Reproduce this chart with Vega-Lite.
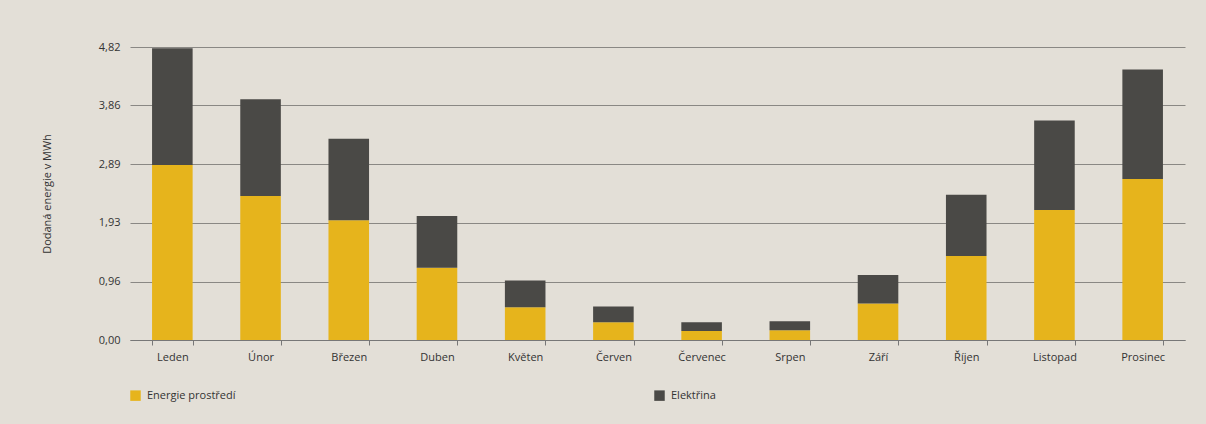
{
  "$schema": "https://vega.github.io/schema/vega-lite/v6.json",
  "autosize": "none",
  "width": 1055,
  "height": 293,
  "padding": {"left": 130, "top": 47, "right": 21, "bottom": 84},
  "background": "#e3dfd7",
  "config": {
    "view": {"stroke": null},
    "font": "Open Sans",
    "axis": {"labelFont": "Open Sans", "titleFont": "Open Sans", "labelColor": "#333333", "titleColor": "#333333"},
    "legend": {"labelFont": "Open Sans"}
  },
  "data": {
    "values": [
      {"mesic": "Leden", "zdroj": "Energie prostředí", "o": 1, "mwh": 2.88},
      {"mesic": "Leden", "zdroj": "Elektřina", "o": 2, "mwh": 1.92},
      {"mesic": "Únor", "zdroj": "Energie prostředí", "o": 1, "mwh": 2.37},
      {"mesic": "Únor", "zdroj": "Elektřina", "o": 2, "mwh": 1.59},
      {"mesic": "Březen", "zdroj": "Energie prostředí", "o": 1, "mwh": 1.97},
      {"mesic": "Březen", "zdroj": "Elektřina", "o": 2, "mwh": 1.34},
      {"mesic": "Duben", "zdroj": "Energie prostředí", "o": 1, "mwh": 1.19},
      {"mesic": "Duben", "zdroj": "Elektřina", "o": 2, "mwh": 0.85},
      {"mesic": "Květen", "zdroj": "Energie prostředí", "o": 1, "mwh": 0.54},
      {"mesic": "Květen", "zdroj": "Elektřina", "o": 2, "mwh": 0.44},
      {"mesic": "Červen", "zdroj": "Energie prostředí", "o": 1, "mwh": 0.29},
      {"mesic": "Červen", "zdroj": "Elektřina", "o": 2, "mwh": 0.26},
      {"mesic": "Červenec", "zdroj": "Energie prostředí", "o": 1, "mwh": 0.15},
      {"mesic": "Červenec", "zdroj": "Elektřina", "o": 2, "mwh": 0.14},
      {"mesic": "Srpen", "zdroj": "Energie prostředí", "o": 1, "mwh": 0.16},
      {"mesic": "Srpen", "zdroj": "Elektřina", "o": 2, "mwh": 0.15},
      {"mesic": "Září", "zdroj": "Energie prostředí", "o": 1, "mwh": 0.60},
      {"mesic": "Září", "zdroj": "Elektřina", "o": 2, "mwh": 0.47},
      {"mesic": "Říjen", "zdroj": "Energie prostředí", "o": 1, "mwh": 1.38},
      {"mesic": "Říjen", "zdroj": "Elektřina", "o": 2, "mwh": 1.01},
      {"mesic": "Listopad", "zdroj": "Energie prostředí", "o": 1, "mwh": 2.14},
      {"mesic": "Listopad", "zdroj": "Elektřina", "o": 2, "mwh": 1.47},
      {"mesic": "Prosinec", "zdroj": "Energie prostředí", "o": 1, "mwh": 2.65},
      {"mesic": "Prosinec", "zdroj": "Elektřina", "o": 2, "mwh": 1.80}
    ]
  },
  "mark": {"type": "bar"},
  "encoding": {
    "x": {
      "field": "mesic",
      "type": "nominal",
      "sort": ["Leden", "Únor", "Březen", "Duben", "Květen", "Červen", "Červenec", "Srpen", "Září", "Říjen", "Listopad", "Prosinec"],
      "scale": {"paddingInner": 0.54, "paddingOuter": 0.25},
      "axis": {
        "title": null,
        "labelAngle": 0,
        "labelFontSize": 11,
        "labelPadding": 6,
        "domainColor": "#777777",
        "tickColor": "#777777",
        "tickSize": 5,
        "tickBand": "extent",
        "grid": false
      }
    },
    "y": {
      "field": "mwh",
      "type": "quantitative",
      "stack": "zero",
      "scale": {"domain": [0, 4.82], "nice": false},
      "axis": {
        "title": "Dodaná energie v MWh",
        "titleFontSize": 11,
        "titleFontWeight": "normal",
        "titlePadding": 46,
        "values": [0, 0.96, 1.93, 2.89, 3.86, 4.82],
        "labelExpr": "replace(format(datum.value, '.2f'), '.', ',')",
        "labelFontSize": 11,
        "labelPadding": 10,
        "ticks": false,
        "domain": false,
        "grid": true,
        "gridColor": "#8a8884",
        "gridWidth": 1
      }
    },
    "color": {
      "field": "zdroj",
      "type": "nominal",
      "scale": {"domain": ["Energie prostředí", "Elektřina"], "range": ["#e6b41c", "#4a4946"]},
      "legend": {
        "title": null,
        "orient": "none",
        "legendX": 0,
        "legendY": 343,
        "direction": "horizontal",
        "columns": 2,
        "columnPadding": 418,
        "symbolType": "square",
        "symbolSize": 110,
        "symbolStrokeWidth": 0,
        "symbolOpacity": 1,
        "labelFontSize": 11,
        "labelColor": "#333333",
        "labelOffset": 6
      }
    },
    "order": {"field": "o", "type": "quantitative"}
  }
}
